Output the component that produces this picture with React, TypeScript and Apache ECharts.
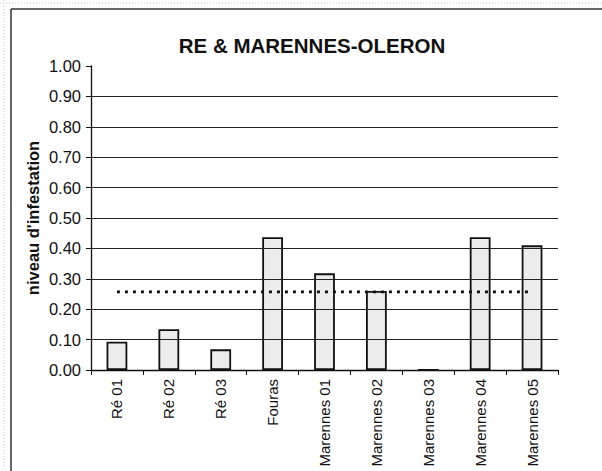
import React, { useEffect, useRef } from "react";
import * as echarts from "echarts";

const categories = ["Ré 01", "Ré 02", "Ré 03", "Fouras", "Marennes 01", "Marennes 02", "Marennes 03", "Marennes 04", "Marennes 05"];
const infestation = [0.093, 0.134, 0.068, 0.437, 0.318, 0.26, 0, 0.437, 0.41];
const meanLine = [0.257, 0.257, 0.257, 0.257, 0.257, 0.257, 0.257, 0.257, 0.257];
const gridValues = [0.1, 0.2, 0.3, 0.4, 0.5, 0.6, 0.7, 0.8, 0.9];
const titleText = "RE & MARENNES-OLERON";
const yAxisTitle = "niveau d'infestation";

const FONT = "'Liberation Sans', Arial, sans-serif";

export default function App() {
  const ref = useRef<HTMLDivElement>(null);
  useEffect(() => {
    if (!ref.current) return;
    const chart = echarts.init(ref.current, null, { renderer: "svg" });
    chart.setOption({
      animation: false,
      backgroundColor: "#ffffff",
      title: {
        text: titleText,
        left: 307,
        top: 30,
        textAlign: "center",
        textStyle: { fontFamily: FONT, fontSize: 20.5, fontWeight: "bold", color: "#111" },
      },
      grid: { left: 91, right: 44, top: 66, bottom: 101, containLabel: false },
      xAxis: {
        type: "category",
        data: categories,
        boundaryGap: true,
        axisLine: { show: true, lineStyle: { color: "#111", width: 1.3 } },
        axisTick: { show: true, length: 5, inside: false, lineStyle: { color: "#111" } },
        axisLabel: {
          rotate: 90,
          interval: 0,
          margin: 9,
          fontFamily: FONT,
          fontSize: 15,
          color: "#111",
        },
        splitLine: { show: false },
      },
      yAxis: {
        type: "value",
        min: 0,
        max: 1,
        interval: 0.1,
        axisLine: { show: true, lineStyle: { color: "#111", width: 1.3 } },
        axisTick: { show: true, length: 5, inside: false, lineStyle: { color: "#111" } },
        axisLabel: {
          formatter: (v: number) => v.toFixed(2),
          fontFamily: FONT,
          fontSize: 16.5,
          color: "#111",
          margin: 10,
        },
        splitLine: { show: false },
      },
      series: [
        {
          type: "line",
          data: [],
          z: 1,
          silent: true,
          markLine: {
            silent: true,
            symbol: "none",
            label: { show: false },
            lineStyle: { color: "#222", width: 1.2, type: "solid" },
            data: gridValues.map((v) => ({ yAxis: v })),
          },
        },
        {
          type: "bar",
          data: infestation,
          barWidth: "40%",
          z: 3,
          itemStyle: { color: "#ececec", borderColor: "#111", borderWidth: 1.8 },
        },
        {
          type: "line",
          data: meanLine,
          z: 4,
          symbol: "none",
          lineStyle: { color: "#111", width: 2.8, type: [3, 5] },
        },
      ],
      graphic: [
        {
          type: "line",
          shape: { x1: 11, y1: 9, x2: 11, y2: 471 },
          style: { stroke: "#333", lineWidth: 1.5 },
        },
        {
          type: "line",
          shape: { x1: 11, y1: 9, x2: 602, y2: 9 },
          style: { stroke: "#333", lineWidth: 1.5 },
        },
        {
          type: "line",
          shape: { x1: 0, y1: 3, x2: 602, y2: 3 },
          style: { stroke: "#c8c8c8", lineWidth: 1, lineDash: [1, 2] },
        },
        {
          type: "line",
          shape: { x1: 4, y1: 0, x2: 4, y2: 471 },
          style: { stroke: "#c8c8c8", lineWidth: 1, lineDash: [1, 2] },
        },
        {
          type: "text",
          x: 33,
          y: 218,
          rotation: Math.PI / 2,
          style: {
            text: yAxisTitle,
            fontFamily: FONT,
            fontSize: 16.5,
            fontWeight: "bold",
            fill: "#111",
            textAlign: "center",
            textVerticalAlign: "middle",
          },
        },
      ],
    });
    return () => chart.dispose();
  }, []);
  return <div ref={ref} style={{ position: "fixed", left: 0, top: 0, width: 602, height: 471 }} />;
}
